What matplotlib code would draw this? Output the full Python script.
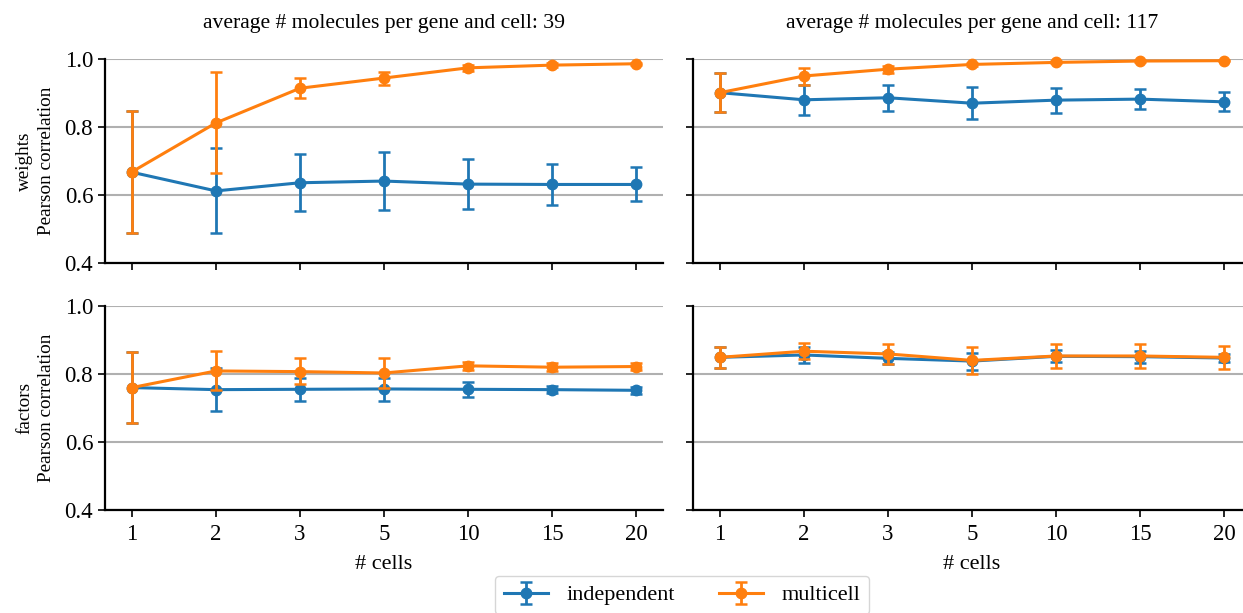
import matplotlib
matplotlib.use("Agg")
import matplotlib.pyplot as plt
import numpy as np

plt.rcParams['font.family'] = ['Liberation Serif', 'DejaVu Serif']
plt.rcParams['font.size'] = 16

cells = ["1", "2", "3", "5", "10", "15", "20"]
titles = ["average # molecules per gene and cell: 39",
          "average # molecules per gene and cell: 117"]
row_labels = ["weights\nPearson correlation", "factors\nPearson correlation"]
yticks = [0.4, 0.6, 0.8, 1.0]

# weights, 39
w39_ind = [0.667, 0.612, 0.636, 0.641, 0.632, 0.631, 0.631]
w39_ind_lo = [0.488, 0.488, 0.553, 0.555, 0.558, 0.570, 0.581]
w39_ind_hi = [0.848, 0.737, 0.720, 0.727, 0.705, 0.691, 0.681]
w39_mc = [0.668, 0.812, 0.914, 0.944, 0.974, 0.982, 0.986]
w39_mc_lo = [0.488, 0.665, 0.885, 0.925, 0.965, 0.977, 0.983]
w39_mc_hi = [0.848, 0.961, 0.943, 0.963, 0.982, 0.987, 0.989]
# weights, 117
w117_ind = [0.901, 0.880, 0.886, 0.870, 0.879, 0.882, 0.874]
w117_ind_lo = [0.845, 0.835, 0.848, 0.823, 0.840, 0.852, 0.846]
w117_ind_hi = [0.958, 0.925, 0.923, 0.917, 0.916, 0.912, 0.903]
w117_mc = [0.901, 0.950, 0.970, 0.984, 0.990, 0.994, 0.995]
w117_mc_lo = [0.845, 0.925, 0.960, 0.980, 0.987, 0.992, 0.993]
w117_mc_hi = [0.958, 0.975, 0.980, 0.988, 0.993, 0.996, 0.997]
# factors, 39
f39_ind = [0.760, 0.754, 0.755, 0.756, 0.755, 0.754, 0.752]
f39_ind_lo = [0.657, 0.690, 0.722, 0.722, 0.733, 0.743, 0.742]
f39_ind_hi = [0.864, 0.817, 0.787, 0.787, 0.777, 0.765, 0.762]
f39_mc = [0.760, 0.809, 0.807, 0.803, 0.824, 0.820, 0.822]
f39_mc_lo = [0.657, 0.753, 0.770, 0.760, 0.812, 0.808, 0.812]
f39_mc_hi = [0.864, 0.867, 0.846, 0.846, 0.836, 0.832, 0.832]
# factors, 117
f117_ind = [0.849, 0.856, 0.846, 0.838, 0.852, 0.851, 0.847]
f117_ind_lo = [0.818, 0.832, 0.828, 0.812, 0.834, 0.833, 0.835]
f117_ind_hi = [0.880, 0.880, 0.866, 0.862, 0.870, 0.869, 0.860]
f117_mc = [0.849, 0.867, 0.859, 0.840, 0.853, 0.853, 0.849]
f117_mc_lo = [0.818, 0.843, 0.830, 0.800, 0.818, 0.818, 0.815]
f117_mc_hi = [0.880, 0.891, 0.888, 0.880, 0.887, 0.887, 0.881]

panels = [
    [(w39_ind, w39_ind_lo, w39_ind_hi, w39_mc, w39_mc_lo, w39_mc_hi),
     (w117_ind, w117_ind_lo, w117_ind_hi, w117_mc, w117_mc_lo, w117_mc_hi)],
    [(f39_ind, f39_ind_lo, f39_ind_hi, f39_mc, f39_mc_lo, f39_mc_hi),
     (f117_ind, f117_ind_lo, f117_ind_hi, f117_mc, f117_mc_lo, f117_mc_hi)],
]

W, H = 1243, 613
fig = plt.figure(figsize=(W / 100, H / 100), dpi=100)

lefts = [105, 693]
tops = [59, 306]
aw, ah = 558, 204

blue = "#1f77b4"
orange = "#ff7f0e"
x = np.arange(len(cells))
handles = None
for r in range(2):
    for c in range(2):
        ax = fig.add_axes([lefts[c] / W, 1 - (tops[r] + ah) / H, aw / W, ah / H])
        ind, ilo, ihi, mc, mlo, mhi = panels[r][c]
        ind = np.array(ind); mc = np.array(mc)
        e1 = ax.errorbar(x, ind, yerr=[ind - np.array(ilo), np.array(ihi) - ind],
                         color=blue, marker='o', markersize=7.5, lw=2.2,
                         elinewidth=2.0, capsize=4, capthick=1.8,
                         label="independent", clip_on=False, zorder=3)
        e2 = ax.errorbar(x, mc, yerr=[mc - np.array(mlo), np.array(mhi) - mc],
                         color=orange, marker='o', markersize=7.5, lw=2.2,
                         elinewidth=2.0, capsize=4, capthick=1.8,
                         label="multicell", clip_on=False, zorder=4)
        handles = [e1, e2]
        ax.set_ylim(0.4, 1.0)
        ax.set_xlim(-0.32, 6.32)
        ax.set_yticks(yticks)
        ax.set_xticks(x)
        ax.yaxis.grid(True, color="#b0b0b0", lw=1.5)
        ax.set_axisbelow(True)
        for s in ["top", "right"]:
            ax.spines[s].set_visible(False)
        for s in ["left", "bottom"]:
            ax.spines[s].set_linewidth(1.6)
        ax.tick_params(width=1.2, length=5, labelsize=16.5)
        ax.tick_params(axis='x', pad=5)
        if c == 0:
            ax.set_yticklabels(["0.4", "0.6", "0.8", "1.0"])
            ax.set_ylabel(row_labels[r], labelpad=7, fontsize=13.8,
                          linespacing=1.35)
        else:
            ax.set_yticklabels([])
        if r == 1:
            ax.set_xticklabels(cells)
            ax.set_xlabel("# cells", fontsize=16, labelpad=7)
        else:
            ax.set_xticklabels([])
            ax.set_title(titles[c], pad=22, fontsize=15.6)

fig.legend(handles=handles, labels=["independent", "multicell"],
           loc="upper center", bbox_to_anchor=(682 / W, 1 - 576 / H), ncol=2,
           frameon=True, edgecolor="#cccccc", columnspacing=2.0, handlelength=2.0,
           fontsize=16, borderaxespad=0)

fig.savefig("out.png", dpi=100)
